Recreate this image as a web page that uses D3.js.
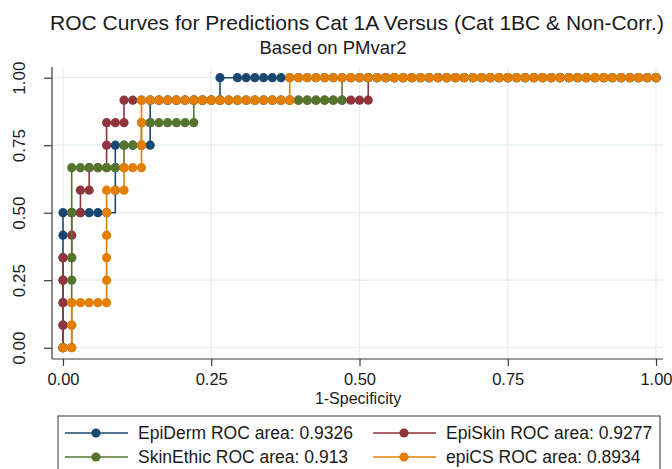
<!DOCTYPE html>
<html>
<head>
<meta charset="utf-8">
<script src="https://cdn.jsdelivr.net/npm/d3@7"></script>
<style>
  body { margin: 0; background: #fff; }
  svg { display: block; font-family: "Liberation Sans", Arial, sans-serif; }
</style>
</head>
<body>
<svg width="672" height="469"></svg>
<script>
"use strict";

// Data: ROC points as [false positive count, true positive count].
// 68 negatives and 12 positives.

var NumNeg = 68;
var NumPos = 12;

var epidermPts = [
  [0,0],[0,1],[0,2],[0,3],[0,4],[0,5],[0,6],[1,6],[2,6],[3,6],[4,6],[5,6],
  [6,6],[6,7],[6,8],[6,9],[7,9],[8,9],[9,9],[10,9],[10,10],[10,11],[11,11],[12,11],
  [13,11],[14,11],[15,11],[16,11],[17,11],[18,11],[18,12],[20,12],[21,12],
  [22,12],[23,12],[24,12],[25,12],[26,12],[27,12],[28,12],[29,12],[30,12],
  [31,12],[32,12],[33,12],[34,12],[35,12],[36,12],[37,12],[38,12],[39,12],
  [40,12],[41,12],[42,12],[43,12],[44,12],[45,12],[46,12],[47,12],[48,12],
  [49,12],[50,12],[51,12],[52,12],[53,12],[54,12],[55,12],[56,12],[57,12],
  [58,12],[59,12],[60,12],[61,12],[62,12],[63,12],[64,12],[65,12],[66,12],
  [67,12],[68,12]
];
// Points drawn as line vertices only (no marker) for EpiDerm.
var epidermNoMarker = [[6,6]];

var episkinPts = [
  [0,0],[0,1],[0,2],[0,3],[0,4],[1,4],[1,5],[1,6],[2,6],[2,7],[3,7],[3,8],
  [4,8],[5,8],[5,9],[5,10],[6,10],[7,10],[7,11],[8,11],[9,11],[10,11],[11,11],
  [12,11],[13,11],[14,11],[15,11],[16,11],[17,11],[18,11],[19,11],[20,11],
  [21,11],[22,11],[23,11],[24,11],[25,11],[26,11],[27,11],[28,11],[29,11],
  [30,11],[31,11],[32,11],[33,11],[34,11],[35,11],[35,12],[36,12],[37,12],
  [38,12],[39,12],[40,12],[41,12],[42,12],[43,12],[44,12],[45,12],[46,12],
  [47,12],[48,12],[49,12],[50,12],[51,12],[52,12],[53,12],[54,12],[55,12],
  [56,12],[57,12],[58,12],[59,12],[60,12],[61,12],[62,12],[63,12],[64,12],
  [65,12],[66,12],[67,12],[68,12]
];

var skinethicPts = [
  [0,0],[1,0],[1,1],[1,2],[1,3],[1,4],[1,6],[1,8],[2,8],[3,8],[4,8],[5,8],
  [6,8],[7,8],[7,9],[8,9],[9,9],[9,10],[10,10],[11,10],[12,10],[13,10],
  [14,10],[15,10],[15,11],[16,11],[17,11],[18,11],[19,11],[20,11],[21,11],
  [22,11],[23,11],[24,11],[25,11],[26,11],[27,11],[28,11],[29,11],[30,11],
  [31,11],[32,11],[32,12],[33,12],[34,12],[35,12],[36,12],[37,12],[38,12],
  [39,12],[40,12],[41,12],[42,12],[43,12],[44,12],[45,12],[46,12],[47,12],
  [48,12],[49,12],[50,12],[51,12],[52,12],[53,12],[54,12],[55,12],[56,12],
  [57,12],[58,12],[59,12],[60,12],[61,12],[62,12],[63,12],[64,12],[65,12],
  [66,12],[67,12],[68,12]
];

var epicsPts = [
  [0,0],[1,0],[1,1],[1,2],[2,2],[3,2],[4,2],[5,2],[5,3],[5,4],[5,5],[5,6],
  [5,7],[6,7],[7,7],[7,8],[8,8],[9,8],[9,9],[9,10],[9,11],[10,11],[11,11],
  [12,11],[13,11],[14,11],[15,11],[16,11],[17,11],[18,11],[19,11],[20,11],
  [21,11],[22,11],[23,11],[24,11],[25,11],[26,11],[26,12],[27,12],[28,12],
  [29,12],[30,12],[31,12],[32,12],[33,12],[34,12],[35,12],[36,12],[37,12],
  [38,12],[39,12],[40,12],[41,12],[42,12],[43,12],[44,12],[45,12],[46,12],
  [47,12],[48,12],[49,12],[50,12],[51,12],[52,12],[53,12],[54,12],[55,12],
  [56,12],[57,12],[58,12],[59,12],[60,12],[61,12],[62,12],[63,12],[64,12],
  [65,12],[66,12],[67,12],[68,12]
];

var seriesNames = ["EpiDerm", "EpiSkin", "SkinEthic", "epiCS"];
var seriesAreas = ["0.9326", "0.9277", "0.913", "0.8934"];
var seriesPoints = [epidermPts, episkinPts, skinethicPts, epicsPts];
var seriesNoMarker = [epidermNoMarker, [], [], []];
var seriesColors = ["#1a476f", "#90353b", "#55752f", "#e37e00"];

var tickValues = [0, 0.25, 0.5, 0.75, 1];

var titleText = "ROC Curves for Predictions Cat 1A Versus (Cat 1BC & Non-Corr.)";
var subtitleText = "Based on PMvar2";
var xTitleText = "1-Specificity";

// Layout.

var svg = d3.select("svg");

var PlotLeft = 52, PlotRight = 663, PlotTop = 67, PlotBottom = 359;
var GridColor = "#e2ecf1";
var AxisColor = "#3a3a3a";
var TextColor = "#1a1a1a";
var MarkerRadius = 4.6;
var LineWidth = 1.6;

var x = d3.scaleLinear().domain([0, 1]).range([63, 656]);
var y = d3.scaleLinear().domain([0, 1]).range([347.7, 77.7]);

// Titles.

svg.append("text")
    .attr("x", 357).attr("y", 30)
    .attr("text-anchor", "middle")
    .style("font-size", "21px").style("fill", TextColor)
    .text(titleText);

svg.append("text")
    .attr("x", 333).attr("y", 54)
    .attr("text-anchor", "middle")
    .style("font-size", "18.5px").style("fill", TextColor)
    .text(subtitleText);

// Grid lines.

var grid = svg.append("g");
grid.selectAll("line.h")
    .data(tickValues)
    .enter().append("line")
        .attr("x1", PlotLeft).attr("x2", PlotRight)
        .attr("y1", function(d){ return y(d); })
        .attr("y2", function(d){ return y(d); })
        .style("stroke", GridColor).style("stroke-width", 1.2);
grid.selectAll("line.v")
    .data(tickValues)
    .enter().append("line")
        .attr("x1", function(d){ return x(d); })
        .attr("x2", function(d){ return x(d); })
        .attr("y1", PlotTop).attr("y2", PlotBottom)
        .style("stroke", GridColor).style("stroke-width", 1.2);

// Axes.

var fmt = d3.format(".2f");

var yAxis = svg.append("g")
    .attr("transform", "translate(" + PlotLeft + ",0)")
    .call(d3.axisLeft(y).tickValues(tickValues).tickFormat(fmt).tickSize(8));
yAxis.select(".domain").remove();
yAxis.selectAll(".tick line").style("stroke", AxisColor).style("stroke-width", 1.2);
yAxis.selectAll(".tick text")
    .attr("transform", "rotate(-90)")
    .attr("x", 0).attr("y", -27).attr("dy", 0)
    .attr("text-anchor", "middle")
    .style("font-size", "17px").style("fill", TextColor)
    .style("font-family", "'Liberation Sans', Arial, sans-serif");

var xAxis = svg.append("g")
    .attr("transform", "translate(0," + PlotBottom + ")")
    .call(d3.axisBottom(x).tickValues(tickValues).tickFormat(fmt).tickSize(7));
xAxis.select(".domain").remove();
xAxis.selectAll(".tick line").style("stroke", AxisColor).style("stroke-width", 1.2);
xAxis.selectAll(".tick text")
    .attr("y", 26).attr("dy", 0)
    .style("font-size", "16.5px").style("fill", TextColor)
    .style("font-family", "'Liberation Sans', Arial, sans-serif");

svg.append("line")
    .attr("x1", PlotLeft).attr("x2", PlotLeft)
    .attr("y1", PlotTop).attr("y2", PlotBottom)
    .style("stroke", AxisColor).style("stroke-width", 1.2);
svg.append("line")
    .attr("x1", PlotLeft).attr("x2", PlotRight)
    .attr("y1", PlotBottom).attr("y2", PlotBottom)
    .style("stroke", AxisColor).style("stroke-width", 1.2);

svg.append("text")
    .attr("x", 358).attr("y", 404)
    .attr("text-anchor", "middle")
    .style("font-size", "16px").style("fill", TextColor)
    .text(xTitleText);

// Curves: each line with its markers, later series on top.

var line = d3.line()
    .x(function(d){ return x(d[0] / NumNeg); })
    .y(function(d){ return y(d[1] / NumPos); });

seriesPoints.forEach(function(pts, k){
    var skip = seriesNoMarker[k].map(function(p){ return p.join(","); });
    var g = svg.append("g");
    g.append("path")
        .datum(pts)
        .attr("d", line)
        .style("fill", "none")
        .style("stroke", seriesColors[k])
        .style("stroke-width", LineWidth);
    g.selectAll("circle")
        .data(pts.filter(function(p){ return skip.indexOf(p.join(",")) < 0; }))
        .enter().append("circle")
            .attr("cx", function(d){ return x(d[0] / NumNeg); })
            .attr("cy", function(d){ return y(d[1] / NumPos); })
            .attr("r", MarkerRadius)
            .style("fill", seriesColors[k]);
});

// Legend.

var legend = svg.append("g");
legend.append("rect")
    .attr("x", 58).attr("y", 416)
    .attr("width", 602).attr("height", 70)
    .style("fill", "#fff").style("stroke", "#333").style("stroke-width", 1);

var legendCols = [65, 373];
var legendRows = [433, 457];

seriesNames.forEach(function(name, k){
    var lx = legendCols[k % 2];
    var ly = legendRows[Math.floor(k / 2)];
    legend.append("line")
        .attr("x1", lx).attr("x2", lx + 63)
        .attr("y1", ly).attr("y2", ly)
        .style("stroke", seriesColors[k]).style("stroke-width", LineWidth);
    legend.append("circle")
        .attr("cx", lx + 31).attr("cy", ly).attr("r", MarkerRadius)
        .style("fill", seriesColors[k]);
    legend.append("text")
        .attr("x", lx + 73).attr("y", ly + 6)
        .style("font-size", "17.5px").style("fill", TextColor)
        .text(name + " ROC area: " + seriesAreas[k]);
});
</script>
</body>
</html>
